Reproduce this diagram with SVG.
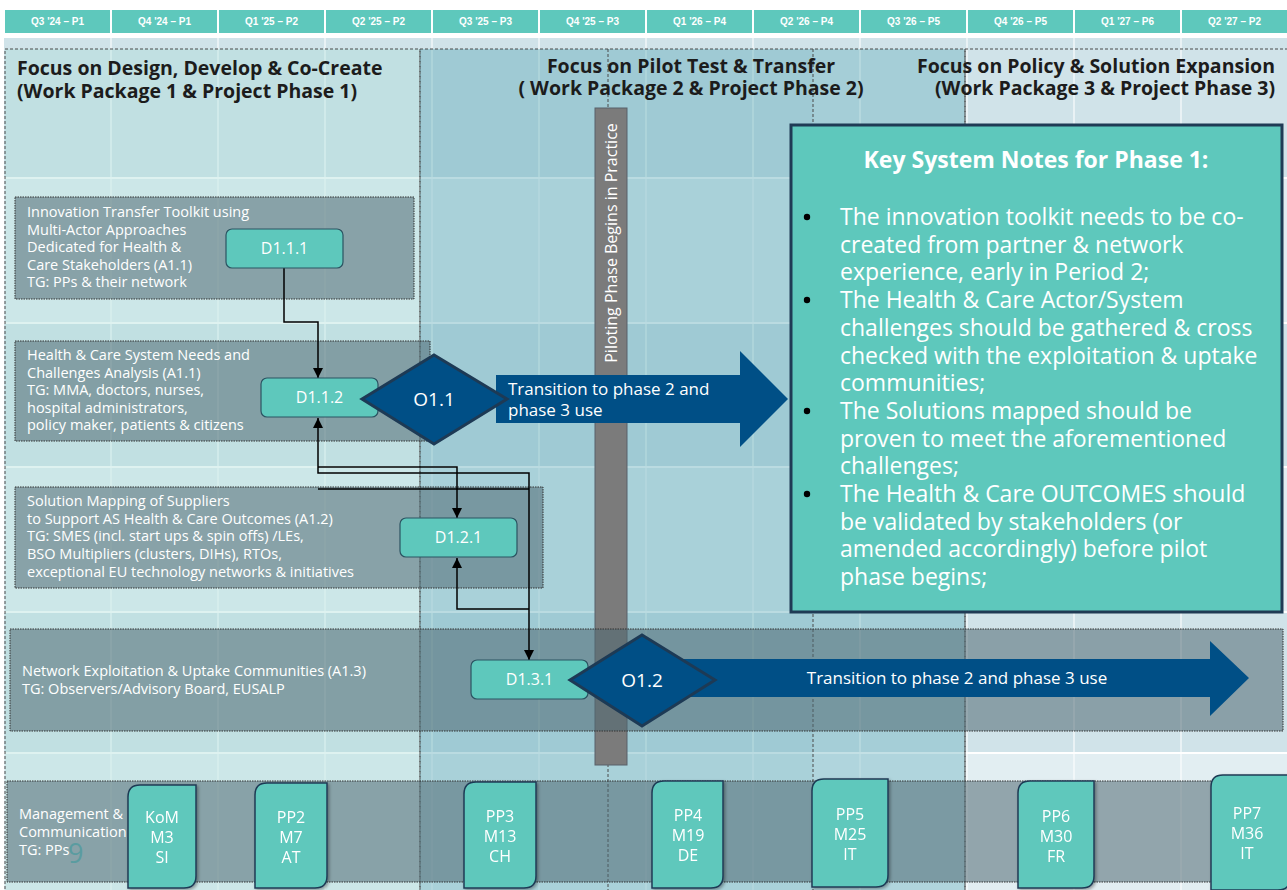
<svg xmlns="http://www.w3.org/2000/svg" width="1287" height="890" viewBox="0 0 1287 890">
<defs>
<style>
.hdr{fill:#5ec8bc}
.hdrt{font-family:"Liberation Sans",Arial,sans-serif;font-weight:700;font-size:10px;fill:#fff;text-anchor:middle}
.rowd{fill:#d0e3e9}
.rowl{fill:#e2eef2}
.vgrid{stroke:#fff;stroke-width:1.5;stroke-opacity:0.7}
.dash{fill:none;stroke:#4a4a4a;stroke-width:1;stroke-dasharray:3 2}
.ttl{font-family:"Open Sans","Noto Sans",sans-serif;font-weight:700;font-size:19.5px;fill:#1c1c1c}
.act{fill:#506973;fill-opacity:0.55;stroke:#333;stroke-width:1;stroke-dasharray:1.5 1}
.actt{font-family:"Open Sans","Noto Sans",sans-serif;font-size:14.5px;fill:#fff}
.del{fill:#5ec8bc;stroke:#2b5462;stroke-width:1.2}
.delt{font-family:"Open Sans","Noto Sans",sans-serif;font-size:16px;fill:#fff;text-anchor:middle}
.dia{fill:#004f86;stroke:#1d3a55;stroke-width:3}
.diat{font-family:"Open Sans","Noto Sans",sans-serif;font-size:19px;fill:#fff;text-anchor:middle}
.arr{fill:#004f86}
.arrt{font-family:"Open Sans","Noto Sans",sans-serif;font-size:17px;fill:#fff}
.conn{fill:none;stroke:#000;stroke-width:1.5}
.tab{fill:#5ec8bc;stroke:#1f3b55;stroke-width:1.5}
.tabt{font-family:"Open Sans","Noto Sans",sans-serif;font-size:16px;fill:#fff;text-anchor:middle}
.note{font-family:"Open Sans","Noto Sans",sans-serif;font-size:23px;fill:#fff}
</style>
<marker id="ah" viewBox="0 0 10 10" refX="10" refY="5" markerWidth="10" markerHeight="10" markerUnits="userSpaceOnUse" orient="auto-start-reverse">
<path d="M0,0 L10,5 L0,10 z" fill="#000"/>
</marker>
<filter id="sh" x="-20%" y="-20%" width="140%" height="140%">
<feDropShadow dx="1.5" dy="1.5" stdDeviation="1.5" flood-color="#000" flood-opacity="0.35"/>
</filter>
</defs>

<rect width="1287" height="890" fill="#fff"/>

<!-- timeline header -->
<g id="header">
<rect class="hdr" x="5" y="10" width="105" height="23"/>
<rect class="hdr" x="112" y="10" width="105" height="23"/>
<rect class="hdr" x="219" y="10" width="105" height="23"/>
<rect class="hdr" x="326" y="10" width="105" height="23"/>
<rect class="hdr" x="433" y="10" width="105" height="23"/>
<rect class="hdr" x="540" y="10" width="105" height="23"/>
<rect class="hdr" x="647" y="10" width="105" height="23"/>
<rect class="hdr" x="754" y="10" width="105" height="23"/>
<rect class="hdr" x="861" y="10" width="105" height="23"/>
<rect class="hdr" x="968" y="10" width="105" height="23"/>
<rect class="hdr" x="1075" y="10" width="105" height="23"/>
<rect class="hdr" x="1182" y="10" width="105" height="23"/>
<text class="hdrt" x="57.5" y="25">Q3 '24 – P1</text>
<text class="hdrt" x="164.5" y="25">Q4 '24 – P1</text>
<text class="hdrt" x="271.5" y="25">Q1 '25 – P2</text>
<text class="hdrt" x="378.5" y="25">Q2 '25 – P2</text>
<text class="hdrt" x="485.5" y="25">Q3 '25 – P3</text>
<text class="hdrt" x="592.5" y="25">Q4 '25 – P3</text>
<text class="hdrt" x="699.5" y="25">Q1 '26 – P4</text>
<text class="hdrt" x="806.5" y="25">Q2 '26 – P4</text>
<text class="hdrt" x="913.5" y="25">Q3 '26 – P5</text>
<text class="hdrt" x="1020.5" y="25">Q4 '26 – P5</text>
<text class="hdrt" x="1127.5" y="25">Q1 '27 – P6</text>
<text class="hdrt" x="1234.5" y="25">Q2 '27 – P2</text>
</g>

<!-- table body: alternating row bands and column rules -->
<g id="table">
<rect class="rowd" x="4" y="38" width="1283" height="139"/>
<rect class="rowl" x="4" y="179" width="1283" height="143"/>
<rect class="rowd" x="4" y="324" width="1283" height="142"/>
<rect class="rowl" x="4" y="468" width="1283" height="143"/>
<rect class="rowd" x="4" y="613" width="1283" height="139"/>
<rect class="rowl" x="4" y="754" width="1283" height="136"/>
<path class="vgrid" d="M111 38V890M218 38V890M325 38V890M432 38V890M539 38V890M646 38V890M753 38V890M860 38V890M967 38V890M1074 38V890M1181 38V890"/>
</g>

<!-- project phases -->
<g id="phase1">
<rect x="5" y="49" width="415" height="850" fill="#a8dcd8" fill-opacity="0.38"/>
<rect class="dash" x="5" y="49" width="415" height="850"/>
<text class="ttl" x="17" y="75">Focus on Design, Develop &amp; Co-Create</text>
<text class="ttl" x="17" y="98">(Work Package 1 &amp; Project Phase 1)</text>
</g>
<g id="phase2">
<rect x="420" y="49" width="545" height="850" fill="#5aa8b8" fill-opacity="0.36"/>
<rect x="420" y="49" width="393" height="850" fill="#5aa8b8" fill-opacity="0.08"/>
<rect class="dash" x="420" y="49" width="545" height="850"/>
<path class="dash" d="M608 49V890M813 49V890"/>
<text class="ttl" x="691" y="73" text-anchor="middle">Focus on Pilot Test &amp; Transfer</text>
<text class="ttl" x="691" y="95" text-anchor="middle">( Work Package 2 &amp; Project Phase 2)</text>
</g>
<g id="phase3">
<rect class="dash" x="965" y="49" width="330" height="850"/>
<text class="ttl" x="1275" y="73" text-anchor="end">Focus on Policy &amp; Solution Expansion</text>
<text class="ttl" x="1275" y="95" text-anchor="end">(Work Package 3 &amp; Project Phase 3)</text>
</g>

<!-- pilot start marker -->
<g id="pilot-bar">
<rect x="595" y="108" width="32" height="657" fill="#7b7b7b" stroke="#59606a" stroke-width="1"/>
<text transform="translate(617 243) rotate(-90)" text-anchor="middle" font-family="Open Sans, Noto Sans, sans-serif" font-size="16" fill="#fff">Piloting Phase Begins in Practice</text>
</g>

<!-- activity swimlanes -->
<g id="act-a11-toolkit">
<rect class="act" x="15" y="197" width="399" height="102"/>
<text class="actt" x="27" y="217">Innovation Transfer Toolkit using</text>
<text class="actt" x="27" y="235">Multi-Actor Approaches</text>
<text class="actt" x="27" y="252">Dedicated for Health &amp;</text>
<text class="actt" x="27" y="270">Care Stakeholders (A1.1)</text>
<text class="actt" x="27" y="287">TG: PPs &amp; their network</text>
</g>
<g id="act-a11-needs">
<rect class="act" x="15" y="341" width="415" height="100"/>
<text class="actt" x="27" y="360">Health &amp; Care System Needs and</text>
<text class="actt" x="27" y="378">Challenges Analysis (A1.1)</text>
<text class="actt" x="27" y="395">TG: MMA, doctors, nurses,</text>
<text class="actt" x="27" y="413">hospital administrators,</text>
<text class="actt" x="27" y="430">policy maker, patients &amp; citizens</text>
</g>
<g id="act-a12">
<rect class="act" x="15" y="487" width="528" height="101"/>
<text class="actt" x="27" y="506">Solution Mapping of Suppliers</text>
<text class="actt" x="27" y="524">to Support AS Health &amp; Care Outcomes (A1.2)</text>
<text class="actt" x="27" y="541">TG: SMES (incl. start ups &amp; spin offs) /LEs,</text>
<text class="actt" x="27" y="559">BSO Multipliers (clusters, DIHs), RTOs,</text>
<text class="actt" x="27" y="577">exceptional EU technology networks &amp; initiatives</text>
</g>
<g id="act-a13">
<rect class="act" x="10" y="629" width="1273" height="102"/>
<text class="actt" x="22" y="676">Network Exploitation &amp; Uptake Communities (A1.3)</text>
<text class="actt" x="22" y="694">TG: Observers/Advisory Board, EUSALP</text>
</g>
<g id="act-mgmt">
<rect class="act" x="7" y="781" width="1285" height="101"/>
<text class="actt" x="19" y="819">Management &amp;</text>
<text class="actt" x="19" y="837">Communication</text>
<text class="actt" x="19" y="855">TG: PPs</text>
<text x="68" y="863" font-family="Open Sans, Noto Sans, sans-serif" font-size="27" fill="#5a9ca0">9</text>
</g>

<!-- outcome transition arrows -->
<g id="arrow-o11">
<polygon class="arr" points="496,375 740,375 740,351 788,399 740,447 740,423 496,423"/>
<text class="arrt" x="508" y="395">Transition to phase 2 and</text>
<text class="arrt" x="508" y="416">phase 3 use</text>
</g>
<g id="arrow-o12">
<polygon class="arr" points="620,659 1210,659 1210,641 1249,678 1210,716 1210,697 620,697"/>
<text class="arrt" x="957" y="684" text-anchor="middle">Transition to phase 2 and phase 3 use</text>
</g>

<!-- connectors -->
<g id="connectors">
<path class="conn" d="M284 268V322H318V378" marker-end="url(#ah)"/>
<path class="conn" d="M318 467H457V518" marker-end="url(#ah)"/>
<path class="conn" d="M529 660V473H318V418" marker-start="url(#ah)" marker-end="url(#ah)"/>
<path class="conn" d="M318 489H529"/>
<path class="conn" d="M529 609H457V558" marker-end="url(#ah)"/>
</g>

<!-- deliverables -->
<g id="d111">
<rect class="del" x="226" y="229" width="117" height="39" rx="6"/>
<text class="delt" x="284.5" y="254">D1.1.1</text>
</g>
<g id="d112">
<rect class="del" x="261" y="378" width="117" height="39" rx="6"/>
<text class="delt" x="319.5" y="403">D1.1.2</text>
</g>
<g id="d121">
<rect class="del" x="400" y="518" width="117" height="39" rx="6"/>
<text class="delt" x="458.5" y="543">D1.2.1</text>
</g>
<g id="d131">
<rect class="del" x="471" y="660" width="117" height="39" rx="6"/>
<text class="delt" x="529.5" y="685">D1.3.1</text>
</g>

<!-- outcomes -->
<g id="o11">
<polygon class="dia" points="362,399 434,355 507,399 434,444"/>
<text class="diat" x="434" y="406">O1.1</text>
</g>
<g id="o12">
<polygon class="dia" points="570,680 642,635 715,680 642,726"/>
<text class="diat" x="642" y="687">O1.2</text>
</g>

<!-- key notes panel -->
<g id="key-notes">
<rect x="791" y="125" width="491" height="487" fill="#5ec8bc" stroke="#1f3b55" stroke-width="3"/>
<text x="1036" y="168" text-anchor="middle" font-family="Open Sans, Noto Sans, sans-serif" font-weight="700" font-size="23" fill="#fff">Key System Notes for Phase 1:</text>
<g fill="#000000">
<circle cx="807" cy="217" r="3.2"/>
<circle cx="807" cy="300" r="3.2"/>
<circle cx="807" cy="411" r="3.2"/>
<circle cx="807" cy="494" r="3.2"/>
</g>
<text class="note" x="840" y="225">The innovation toolkit needs to be co-</text>
<text class="note" x="840" y="252.7">created from partner &amp; network</text>
<text class="note" x="840" y="280.4">experience, early in Period 2;</text>
<text class="note" x="840" y="308.1">The Health &amp; Care Actor/System</text>
<text class="note" x="840" y="335.8">challenges should be gathered &amp; cross</text>
<text class="note" x="840" y="363.5">checked with the exploitation &amp; uptake</text>
<text class="note" x="840" y="391.2">communities;</text>
<text class="note" x="840" y="418.9">The Solutions mapped should be</text>
<text class="note" x="840" y="446.6">proven to meet the aforementioned</text>
<text class="note" x="840" y="474.3">challenges;</text>
<text class="note" x="840" y="502">The Health &amp; Care OUTCOMES should</text>
<text class="note" x="840" y="529.7">be validated by stakeholders (or</text>
<text class="note" x="840" y="557.4">amended accordingly) before pilot</text>
<text class="note" x="840" y="585.1">phase begins;</text>
</g>

<!-- partner meeting milestones -->
<g id="m-kom" filter="url(#sh)">
<path class="tab" d="M128 797Q128 785 140 785H196V876Q196 888 184 888H128Z"/>
<text class="tabt" x="162" y="823">KoM</text>
<text class="tabt" x="162" y="843">M3</text>
<text class="tabt" x="162" y="863">SI</text>
</g>
<g id="m-pp2" filter="url(#sh)">
<path class="tab" d="M255 795Q255 783 267 783H327V876Q327 888 315 888H255Z"/>
<text class="tabt" x="291" y="823">PP2</text>
<text class="tabt" x="291" y="843">M7</text>
<text class="tabt" x="291" y="863">AT</text>
</g>
<g id="m-pp3" filter="url(#sh)">
<path class="tab" d="M464 794Q464 782 476 782H536V876Q536 888 524 888H464Z"/>
<text class="tabt" x="500" y="822">PP3</text>
<text class="tabt" x="500" y="842">M13</text>
<text class="tabt" x="500" y="862">CH</text>
</g>
<g id="m-pp4" filter="url(#sh)">
<path class="tab" d="M652 793Q652 781 664 781H723V876Q723 888 711 888H652Z"/>
<text class="tabt" x="688" y="821">PP4</text>
<text class="tabt" x="688" y="841">M19</text>
<text class="tabt" x="688" y="861">DE</text>
</g>
<g id="m-pp5" filter="url(#sh)">
<path class="tab" d="M812 791Q812 779 824 779H888V875Q888 887 876 887H812Z"/>
<text class="tabt" x="850" y="820">PP5</text>
<text class="tabt" x="850" y="840">M25</text>
<text class="tabt" x="850" y="860">IT</text>
</g>
<g id="m-pp6" filter="url(#sh)">
<path class="tab" d="M1018 793Q1018 781 1030 781H1094V876Q1094 888 1082 888H1018Z"/>
<text class="tabt" x="1056" y="822">PP6</text>
<text class="tabt" x="1056" y="842">M30</text>
<text class="tabt" x="1056" y="862">FR</text>
</g>
<g id="m-pp7" filter="url(#sh)">
<path class="tab" d="M1211 787Q1211 775 1223 775H1290V878Q1290 890 1278 890H1211Z"/>
<text class="tabt" x="1247" y="819">PP7</text>
<text class="tabt" x="1247" y="839">M36</text>
<text class="tabt" x="1247" y="859">IT</text>
</g>
</svg>
